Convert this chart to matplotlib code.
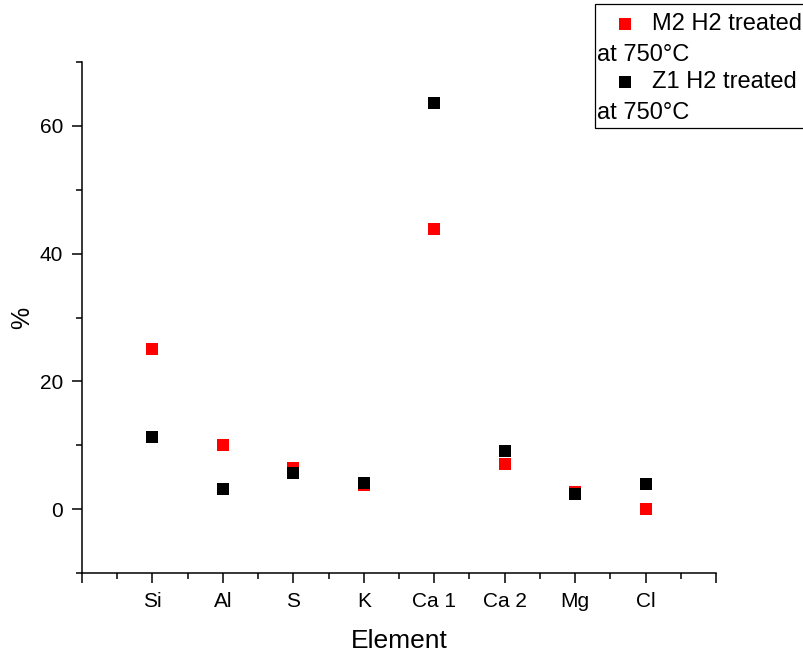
import matplotlib
matplotlib.use("Agg")
import matplotlib.pyplot as plt
from matplotlib.lines import Line2D
from matplotlib.patches import Rectangle
from matplotlib.ticker import MultipleLocator, FixedLocator

plt.rcParams['font.family'] = ['Liberation Sans', 'DejaVu Sans']

# data
elements = ['Si', 'Al', 'S', 'K', 'Ca 1', 'Ca 2', 'Mg', 'Cl']
m2_vals = [25.1, 10.0, 6.5, 3.8, 43.9, 7.1, 2.7, 0.0]
z1_vals = [11.3, 3.1, 5.7, 4.1, 63.6, 9.1, 2.35, 4.0]
series_labels = ['M2 H2 treated', 'Z1 H2 treated']
label_tail = 'at 750°C'
colors = ['#ff0000', '#000000']

W, H = 804, 655
fig = plt.figure(figsize=(W / 100, H / 100), dpi=100)
ax = fig.add_axes([82 / W, 1 - 573 / H, (716 - 82) / W, (573 - 62) / H])

xs = list(range(1, len(elements) + 1))
ax.plot(xs, m2_vals, 's', color=colors[0], markersize=8.2, markeredgewidth=0)
ax.plot(xs, z1_vals, 's', color=colors[1], markersize=8.2, markeredgewidth=0)

ax.set_xlim(0, len(elements) + 1)
ax.set_ylim(-10, 70)

ax.xaxis.set_major_locator(FixedLocator(list(range(0, len(elements) + 2))))
ax.set_xticklabels([''] + elements + [''])
ax.xaxis.set_minor_locator(MultipleLocator(0.5))
ax.yaxis.set_major_locator(FixedLocator([0, 20, 40, 60]))
ax.yaxis.set_minor_locator(FixedLocator([-10, 10, 30, 50, 70]))

for s in ['top', 'right']:
    ax.spines[s].set_visible(False)
for s in ['left', 'bottom']:
    ax.spines[s].set_linewidth(1.1)

ax.tick_params(which='major', direction='out', length=7.5, width=1.1, labelsize=15, pad=6)
ax.tick_params(which='minor', direction='out', length=4, width=1.1)

ax.set_xlabel('Element', fontsize=19, labelpad=13)
ax.set_ylabel('%', fontsize=18, labelpad=4)

# legend drawn by hand (Origin style, wrapped text)
def px(x, y):
    return x / W, 1 - y / H

box = Rectangle(px(595, 128), (W + 10 - 595) / W, (128 - 4) / H,
                transform=fig.transFigure, fill=False, edgecolor='black', linewidth=0.9)
fig.add_artist(box)
rows = [24, 82]
for lab, col, yy in zip(series_labels, colors, rows):
    mx, my = px(625, yy)
    fig.add_artist(Line2D([mx], [my], marker='s', color=col, markersize=8.2,
                          markeredgewidth=0, transform=fig.transFigure))
    tx, ty = px(652, yy)
    fig.text(tx, ty, lab, fontsize=17, va='center', ha='left')
    tx, ty = px(597, yy + 31)
    fig.text(tx, ty, label_tail, fontsize=17, va='center', ha='left')

fig.savefig('out.png', dpi=100)
